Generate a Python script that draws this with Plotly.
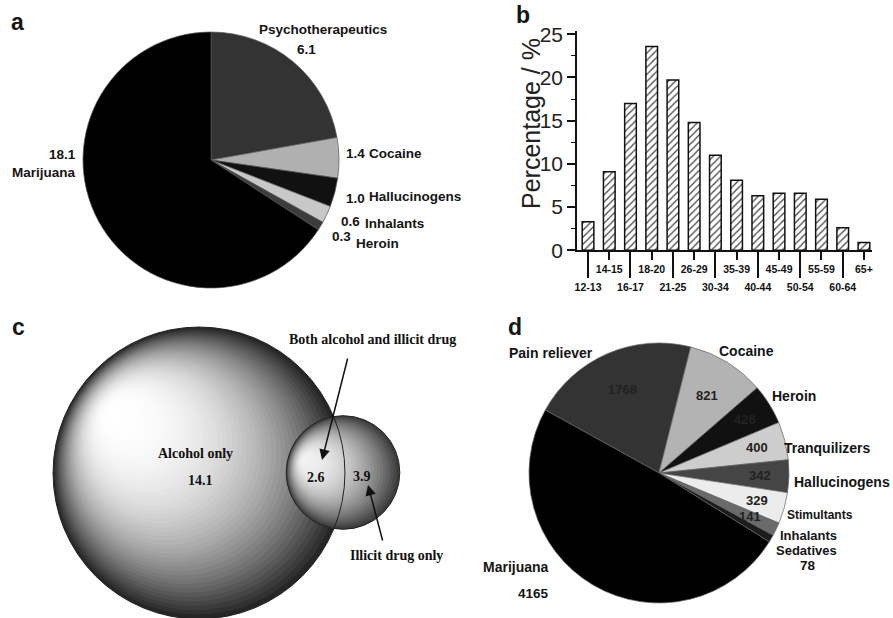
import math
import plotly.graph_objects as go

W, H = 893, 618

# ---------------- data ----------------
# Panel a
A_LABELS = ["Psychotherapeutics", "Cocaine", "Hallucinogens", "Inhalants", "Heroin", "Marijuana"]
A_VALUES = [6.1, 1.4, 1.0, 0.6, 0.3, 18.1]

# Panel b
AGE_GROUPS = ["12-13", "14-15", "16-17", "18-20", "21-25", "26-29", "30-34",
              "35-39", "40-44", "45-49", "50-54", "55-59", "60-64", "65+"]
AGE_PERCENT = [3.3, 9.1, 17.0, 23.6, 19.7, 14.8, 11.0, 8.1, 6.3, 6.6, 6.6, 5.9, 2.6, 0.9]
B_YTITLE = "Percentage / %"

# Panel c
VENN_LABELS = ["Alcohol only", "Both alcohol and illicit drug", "Illicit drug only"]
VENN_VALUES = [14.1, 2.6, 3.9]

# Panel d
D_LABELS = ["Pain reliever", "Cocaine", "Heroin", "Tranquilizers", "Hallucinogens",
            "Stimultants", "Inhalants", "Sedatives", "Marijuana"]
D_VALUES = [1768, 821, 426, 400, 342, 329, 141, 78, 4165]

PANEL_LETTERS = ["a", "b", "c", "d"]

# ---------------- styles / layout ----------------
SANS = "Liberation Sans, Arial, sans-serif"
SERIF = "Liberation Serif, Times New Roman, serif"
A_COLORS = ["#333333", "#b0b0b0", "#111111", "#c8c8c8", "#3c3c3c", "#000000"]
D_COLORS = ["#333333", "#b3b3b3", "#111111", "#cdcdcd", "#454545", "#ececec",
            "#6a6a6a", "#1c1c1c", "#000000"]


def px(x):
    return x / W


def py(y):
    return 1 - y / H


annotations = []
shapes = []


def add_text(x, y, text, size, family=SANS, bold=True, color="#141414", **kw):
    d = dict(x=px(x), y=py(y), xref="paper", yref="paper", text=text, showarrow=False,
             font=dict(family=family, size=size, color=color, weight="bold" if bold else "normal"),
             xanchor="center", yanchor="middle")
    d.update(kw)
    annotations.append(d)


def mid_angles(values, rotation):
    total = sum(values)
    start = 90 - rotation
    out, cum = [], 0.0
    for v in values:
        span = 360.0 * v / total
        out.append((start - cum - span / 2, span))
        cum += span
    return out


fig = go.Figure()

# ---------------- panel a: pie ----------------
A_C, A_R = (211, 160), 128
fig.add_trace(go.Pie(
    labels=A_LABELS, values=A_VALUES, sort=False, direction="clockwise", rotation=0,
    marker=dict(colors=A_COLORS, line=dict(color="#555555", width=0.7)),
    textinfo="none", hoverinfo="label+value",
    domain=dict(x=[px(A_C[0] - A_R), px(A_C[0] + A_R)], y=[py(A_C[1] + A_R), py(A_C[1] - A_R)]),
))
A_TEXT_POS = {
    "Psychotherapeutics": ((306, 49), (323, 30)),
    "Cocaine": ((355, 153), (395, 153)),
    "Hallucinogens": ((355, 198), (415, 197)),
    "Inhalants": ((350, 221), (394, 223)),
    "Heroin": ((341, 236), (377, 244)),
    "Marijuana": ((63, 154), (44, 173)),
}
for lab, val in zip(A_LABELS, A_VALUES):
    vp, lp = A_TEXT_POS[lab]
    add_text(vp[0], vp[1], f"{val:.1f}", 13.5)
    add_text(lp[0], lp[1], lab, 13.5)

# ---------------- panel b: bars ----------------
B_X0, B_X1, B_Y0, B_Y1 = 577, 872, 250.3, 31
XR = [-0.52, 13.38]
idx = list(range(len(AGE_GROUPS)))
fig.add_trace(go.Bar(
    x=idx, y=AGE_PERCENT, width=0.55, xaxis="x", yaxis="y", showlegend=False,
    marker=dict(color="white", line=dict(color="#111111", width=1.5),
                pattern=dict(shape="/", fgcolor="#444444", bgcolor="white", size=5, solidity=0.25)),
))
fig.add_trace(go.Scatter(x=[], y=[], xaxis="x2", yaxis="y", showlegend=False))

tickfont_b = dict(family=SANS, size=10.5, color="#111111", weight="bold")
odd = [i for i in idx if i % 2 == 1]
even = [i for i in idx if i % 2 == 0]

# ---------------- panel c: venn ----------------
fig.add_trace(go.Scatter(x=[], y=[], xaxis="x3", yaxis="y3", showlegend=False))
VENN_PX_PER_UNIT = 8.74
R_BIG = (VENN_VALUES[0] + VENN_VALUES[1]) * VENN_PX_PER_UNIT
R_SMALL = (VENN_VALUES[1] + VENN_VALUES[2]) * VENN_PX_PER_UNIT
C_BIG = (199, 473)
C_SMALL = (343, 472.5)
H_BIG = (110, 410)
H_SMALL = (303, 460)


def gradient_sphere(c, r, hl, lo, hi, p, n):
    for i in range(n):
        t = i / n
        cx = c[0] + t * (hl[0] - c[0])
        cy = c[1] + t * (hl[1] - c[1])
        rr = r * (1 - t)
        b = int(round(lo + (hi - lo) * (1 - (1 - t) ** p)))
        b = min(b, 255)
        col = f"rgb({b},{b},{b})"
        shapes.append(dict(type="circle", xref="x3", yref="y3",
                           x0=cx - rr, x1=cx + rr, y0=cy - rr, y1=cy + rr,
                           fillcolor=col, line=dict(width=0), layer="above"))


gradient_sphere(C_BIG, R_BIG, H_BIG, 38, 255, 2.4, 48)
gradient_sphere(C_SMALL, R_SMALL, H_SMALL, 60, 242, 2.0, 30)
for c, r in [(C_BIG, R_BIG), (C_SMALL, R_SMALL)]:
    shapes.append(dict(type="circle", xref="x3", yref="y3",
                       x0=c[0] - r, x1=c[0] + r, y0=c[1] - r, y1=c[1] + r,
                       fillcolor="rgba(0,0,0,0)", line=dict(color="#222222", width=1), layer="above"))

vfont = dict(family=SERIF, size=14, color="#111111", weight="bold")


def venn_text(x, y, text, **kw):
    d = dict(x=x, y=y, xref="x3", yref="y3", text=text, showarrow=False, font=vfont,
             xanchor="center", yanchor="middle")
    d.update(kw)
    annotations.append(d)


venn_text(195, 454, VENN_LABELS[0])
venn_text(200, 481, f"{VENN_VALUES[0]:.1f}")
venn_text(316, 478, f"{VENN_VALUES[1]:.1f}")
venn_text(362, 477, f"{VENN_VALUES[2]:.1f}")
venn_text(372, 340, VENN_LABELS[1])
venn_text(396, 555, VENN_LABELS[2])
for (hx, hy), (tx, ty) in [((322, 460), (348, 357)), ((368, 485), (383, 542))]:
    annotations.append(dict(x=hx, y=hy, xref="x3", yref="y3", ax=tx, ay=ty, axref="x3", ayref="y3",
                            text="", showarrow=True, arrowhead=2, arrowsize=1.4, arrowwidth=1.5,
                            arrowcolor="#111111", standoff=0, startstandoff=0))

# ---------------- panel d: pie ----------------
D_C, D_R = (659, 473), 130
D_ROT = -61
fig.add_trace(go.Pie(
    labels=D_LABELS, values=D_VALUES, sort=False, direction="clockwise", rotation=D_ROT,
    marker=dict(colors=D_COLORS, line=dict(color="#666666", width=0.7)),
    textinfo="none", hoverinfo="label+value",
    domain=dict(x=[px(D_C[0] - D_R), px(D_C[0] + D_R)], y=[py(D_C[1] + D_R), py(D_C[1] - D_R)]),
))
D_LABEL_POS = {
    "Pain reliever": (551, 353), "Cocaine": (746, 351), "Heroin": (794, 396),
    "Tranquilizers": (827, 448), "Hallucinogens": (842, 482), "Stimultants": (820, 515),
    "Inhalants": (808, 535), "Sedatives": (806, 550), "Marijuana": (516, 567),
}
D_LABEL_SIZE = {"Stimultants": 12, "Inhalants": 13, "Sedatives": 13}
D_OUT_VALUE_POS = {"Sedatives": (808, 565), "Marijuana": (533, 593)}
for (lab, val), (ang, span) in zip(zip(D_LABELS, D_VALUES), mid_angles(D_VALUES, D_ROT)):
    lp = D_LABEL_POS[lab]
    add_text(lp[0], lp[1], lab, D_LABEL_SIZE.get(lab, 14))
    if lab in D_OUT_VALUE_POS:
        vp = D_OUT_VALUE_POS[lab]
        add_text(vp[0], vp[1], str(val), 13.5)
    else:
        f = 0.7 if span > 30 else 0.78
        x = D_C[0] + f * D_R * math.cos(math.radians(ang))
        y = D_C[1] - f * D_R * math.sin(math.radians(ang))
        add_text(x, y, str(val), 13, color="#222222")

# ---------------- panel letters, axis title ----------------
for letter, (x, y) in zip(PANEL_LETTERS, [(17, 22), (523, 15), (18, 327), (515, 327)]):
    add_text(x, y, letter, 23)
add_text(531, 124, B_YTITLE, 25, bold=False, color="#222222", textangle=-90)

fig.update_layout(
    width=W, height=H, margin=dict(l=0, r=0, t=0, b=0),
    paper_bgcolor="white", plot_bgcolor="rgba(0,0,0,0)", template="none",
    showlegend=False, annotations=annotations, shapes=shapes,
    xaxis=dict(domain=[px(B_X0), px(B_X1)], range=XR, anchor="y",
               tickmode="array", tickvals=odd, ticktext=[AGE_GROUPS[i] for i in odd],
               ticks="outside", ticklen=8, tickwidth=1.5, tickcolor="#111111",
               showline=True, linewidth=1.5, linecolor="#111111",
               showgrid=False, zeroline=False, tickfont=tickfont_b, fixedrange=True),
    xaxis2=dict(domain=[px(B_X0), px(B_X1)], range=XR, anchor="y", overlaying="x", side="bottom",
                tickmode="array", tickvals=even, ticktext=[AGE_GROUPS[i] for i in even],
                ticks="outside", ticklen=27, tickwidth=1.5, tickcolor="#111111",
                showline=False, showgrid=False, zeroline=False, tickfont=tickfont_b, fixedrange=True),
    yaxis=dict(domain=[py(B_Y0), py(B_Y1)], range=[0, 25.38], anchor="x",
               tickmode="linear", tick0=0, dtick=5,
               ticks="outside", ticklen=8, tickwidth=1.5, tickcolor="#111111",
               minor=dict(tickmode="linear", tick0=0, dtick=2.5, ticks="outside", ticklen=4,
                          tickwidth=1.2, tickcolor="#111111", showgrid=False),
               showline=True, linewidth=1.5, linecolor="#111111",
               showgrid=False, zeroline=False, fixedrange=True,
               tickfont=dict(family=SANS, size=21, color="#222222")),
    xaxis3=dict(domain=[0, px(460)], range=[0, 460], anchor="y3", visible=False, fixedrange=True),
    yaxis3=dict(domain=[0, py(298)], range=[618, 298], anchor="x3", visible=False, fixedrange=True),
)

fig.write_html("out.html", config={"displayModeBar": False},
               post_script="document.body.style.margin='0';document.body.style.padding='0';")
